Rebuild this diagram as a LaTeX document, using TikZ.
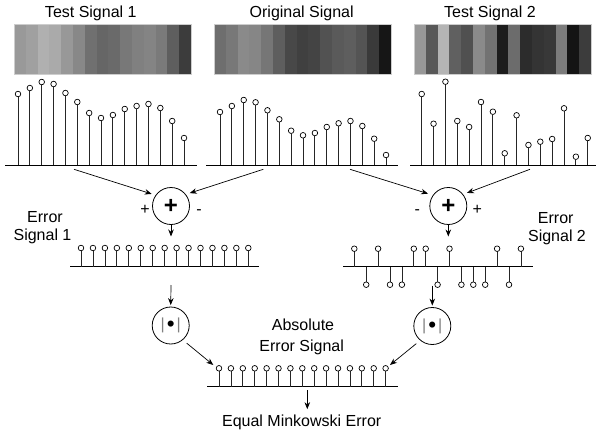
\documentclass[tikz,border=0pt]{standalone}
\usepackage{fontspec}
\setmainfont{Liberation Sans}
\usetikzlibrary{arrows.meta}
\definecolor{absg}{RGB}{128,128,128}
\definecolor{bord}{RGB}{205,205,205}
\newcommand\absglyph{\fontsize{16}{16}\selectfont{\color{absg}|}\hspace{2pt}\raisebox{-2.2pt}{\scalebox{1.4}{\textbullet}}\hspace{2pt}{\color{absg}|}}
\tikzset{
  lbl/.style={font=\fontsize{16}{19}\selectfont, inner sep=0pt},
  arr/.style={-{Stealth[length=7pt,width=5.5pt]}, line width=0.7pt},
  stemln/.style={line width=0.8pt, black!85},
  dotc/.style={fill=white, draw=black, line width=0.7pt},
  axisln/.style={line width=0.8pt},
  opc/.style={circle, draw, line width=0.8pt, minimum size=37pt, inner sep=0pt},
}
\begin{document}
\begin{tikzpicture}[x=1pt,y=-1pt]
\useasboundingbox (0,0) rectangle (596,436);
% titles
\node[lbl, anchor=base] (t1) at (90.8,17.3) {Test Signal 1};
\node[lbl, anchor=base] (t0) at (301.7,17.3) {Original Signal};
\node[lbl, anchor=base] (t2) at (490,17.3) {Test Signal 2};
% gray bars
\foreach \xo/\vals in {14/{153,160,176,170,152,136,112,102,106,120,128,132,122,94,60},
                       214/{110,120,138,134,118,94,72,64,68,82,90,94,84,58,22},
                       414/{152,88,180,96,80,138,114,28,108,44,52,56,124,20,60}} {
  \foreach \g [count=\i from 0] in \vals {
    \definecolor{barc}{RGB}{\g,\g,\g}
    \fill[barc] ({\xo+\i*11.8},24) rectangle ({\xo+(\i+1)*11.8+0.05},74);
  }
  \draw[bord, line width=0.6pt] (\xo,24) rectangle ({\xo+177},74);
}
% top stem plots
\draw[axisln] (5,165) -- (197,165);
\draw[axisln] (206,165) -- (398,165);
\draw[axisln] (410,165) -- (596,165);
\foreach \xo/\vals in {18/{94,88,82,84,93,102,113,118,115,109,106,104,108,121,138},
                       220/{112,106,100,102.3,110.3,119.3,130.7,135.3,133,127,123.3,121,126,138.7,155},
                       421.7/{94,123.7,81.7,121,127,102,111.7,153.3,115.3,145,141.7,139,108.3,156.7,138}} {
  \foreach \yv [count=\i from 0] in \vals {
    \draw[stemln] ({\xo+\i*11.86},165) -- ({\xo+\i*11.86},{\yv+2.8});
    \draw[dotc] ({\xo+\i*11.86},\yv) circle[radius=2.8pt];
  }
}
% sum operators
\node[opc] (sum1) at (171,206) {\fontsize{24}{24}\selectfont\bfseries +};
\node[opc] (sum2) at (448.3,206) {\fontsize{24}{24}\selectfont\bfseries +};
\node[lbl, anchor=base] (p1) at (145,214.8) {+};
\node[lbl, anchor=base] (m1) at (199,214.8) {-};
\node[lbl, anchor=base] (m2) at (417.3,214.8) {-};
\node[lbl, anchor=base] (p2) at (477.3,214.8) {+};
\coordinate (ta1) at (74,169.3);
\coordinate (ta2) at (263.3,169.3);
\coordinate (ta3) at (350,169.3);
\coordinate (ta4) at (530,169.3);
\draw[arr, shorten >=4pt] (ta1) -- (sum1.145);
\draw[arr, shorten >=4pt] (ta2) -- (sum1.38);
\draw[arr, shorten >=5pt] (ta3) -- (sum2.145);
\draw[arr, shorten >=4pt] (ta4) -- (sum2.38);
% error labels
\node[lbl, anchor=base] (el1a) at (45,222.3) {Error};
\node[lbl, anchor=base] (el1b) at (42.5,240) {Signal 1};
\node[lbl, anchor=base] (el2a) at (555.7,223.3) {Error};
\node[lbl, anchor=base] (el2b) at (557,241.7) {Signal 2};
% error signal 1
\coordinate (e1top) at (171,236.5);
\draw[arr] (sum1.south) -- (e1top);
\draw[axisln] (70,266.7) -- (259.3,266.7);
\foreach \i in {0,...,14} {
  \draw[stemln] ({81+\i*11.95},266.7) -- ({81+\i*11.95},{248+2.8});
  \draw[dotc] ({81+\i*11.95},248) circle[radius=2.8pt];
}
% error signal 2
\coordinate (e2top) at (448.3,236.5);
\draw[arr] (sum2.south) -- (e2top);
\draw[axisln] (343.3,266.7) -- (533.3,266.7);
\foreach \s [count=\i from 0] in {1,-1,1,-1,-1,1,1,-1,1,-1,-1,-1,1,-1,1} {
  \draw[stemln] ({354.3+\i*11.9},266.7) -- ({354.3+\i*11.9},{266.7-\s*15.3});
  \draw[dotc] ({354.3+\i*11.9},{266.7-\s*18}) circle[radius=2.8pt];
}
% absolute value operators
\node[opc] (abs1) at (170.7,325.5) {\absglyph};
\node[opc] (abs2) at (432.3,326) {\absglyph};
\coordinate (e1bot) at (171,285);
\coordinate (e2bot) at (432.3,285.5);
\draw[arr, shorten >=1.5pt] (e1bot) -- (abs1.north);
\draw[arr, shorten >=1.5pt] (e2bot) -- (abs2.north);
% absolute error signal
\node[lbl, anchor=base] (al1) at (303,330) {Absolute};
\node[lbl, anchor=base] (al2) at (301.7,351) {Error Signal};
\coordinate (ab1) at (213.3,365);
\coordinate (ab2) at (390,365);
\draw[arr, shorten <=5pt] (abs1.-50) -- (ab1);
\draw[arr, shorten <=5pt] (abs2.230) -- (ab2);
\draw[axisln] (207.3,386.7) -- (397.7,386.7);
\foreach \i in {0,...,14} {
  \draw[stemln] ({219+\i*11.9},386.7) -- ({219+\i*11.9},{368.3+2.8});
  \draw[dotc] ({219+\i*11.9},368.3) circle[radius=2.8pt];
}
% output
\node[lbl, anchor=base] (minko) at (301.7,426) {Equal Minkowski Error};
\coordinate (bt) at (307.3,390);
\draw[arr, shorten >=5pt] (bt) -- (bt |- minko.north);
\end{tikzpicture}
\end{document}
